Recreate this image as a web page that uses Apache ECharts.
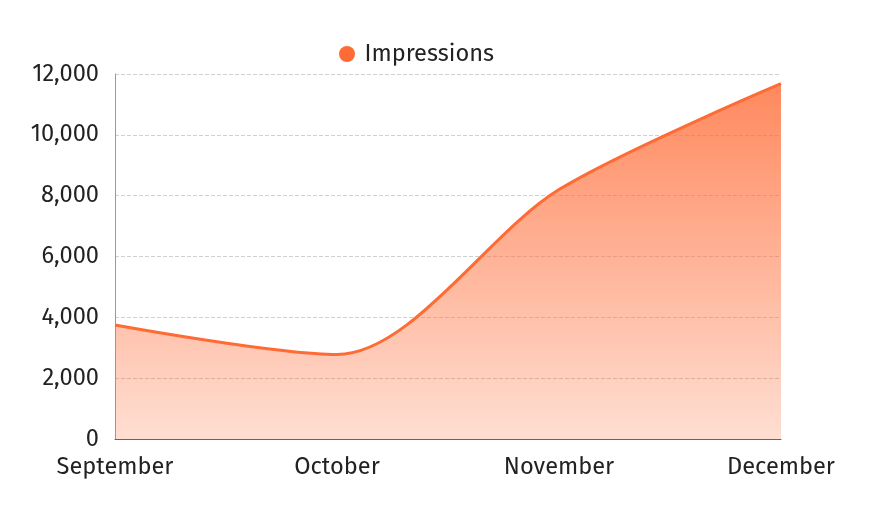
<!DOCTYPE html>
<html>
<head>
<meta charset="utf-8">
<script src="https://cdn.jsdelivr.net/npm/echarts@6/dist/echarts.min.js"></script>
<style>
  html, body { margin: 0; padding: 0; background: #fff; }
  #chart { width: 869px; height: 526px; }
</style>
</head>
<body>
<div id="chart"></div>
<script>
    var months = ['September', 'October', 'November', 'December'];
    var impressions = [3750, 2780, 8200, 11680];
    var seriesName = 'Impressions';

    var FONT = '"Fira Sans", "Noto Sans", sans-serif';
    var lineColor = '#FF6B35';

    var myChart = echarts.init(document.getElementById('chart'));
    var option = {
        animation: false,
        textStyle: { fontFamily: FONT },
        legend: {
            data: [seriesName],
            top: 37,
            left: 334,
            icon: 'circle',
            itemWidth: 25,
            itemHeight: 16,
            textStyle: { fontSize: 23.6, color: '#222', fontFamily: FONT }
        },
        grid: {
            left: 115,
            right: 88,
            top: 74,
            bottom: 87,
            containLabel: false
        },
        xAxis: {
            type: 'category',
            data: months,
            boundaryGap: false,
            axisTick: { show: false },
            axisLine: { lineStyle: { color: '#6E6060' } },
            axisLabel: { fontSize: 23.6, color: '#222', margin: 16, fontFamily: FONT }
        },
        yAxis: {
            type: 'value',
            min: 0,
            max: 12000,
            interval: 2000,
            axisLine: { show: true, lineStyle: { color: '#999' } },
            axisTick: { show: false },
            axisLabel: { fontSize: 23.6, color: '#222', margin: 16, fontFamily: FONT },
            splitLine: { lineStyle: { type: 'dashed', color: '#d0d0d0' } }
        },
        series: [{
            name: seriesName,
            type: 'line',
            data: impressions,
            smooth: 0.3,
            symbol: 'none',
            itemStyle: { color: lineColor },
            lineStyle: { color: lineColor, width: 3 },
            areaStyle: {
                opacity: 1,
                color: new echarts.graphic.LinearGradient(0, 0, 0, 1, [
                    { offset: 0, color: 'rgba(255,107,53,0.8)' },
                    { offset: 1, color: 'rgba(255,107,53,0.22)' }
                ])
            }
        }]
    };
    myChart.setOption(option);
</script>
</body>
</html>
